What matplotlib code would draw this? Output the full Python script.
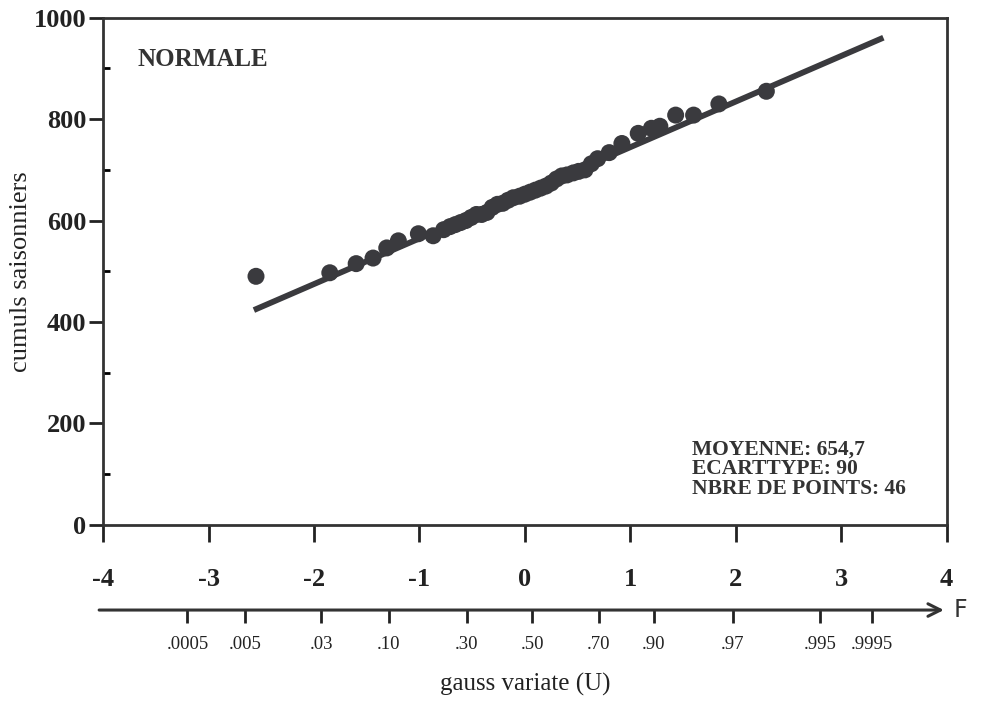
import numpy as np
import matplotlib
matplotlib.use("Agg")
import matplotlib.pyplot as plt

# points (gauss variate U, cumul)
u_pts = [-2.55, -1.85, -1.60, -1.44, -1.31, -1.20, -1.01, -0.87,
         -0.77, -0.71, -0.66, -0.61, -0.56, -0.51, -0.46, -0.41, -0.36, -0.31,
         -0.26, -0.21, -0.16, -0.11, -0.05, 0.00, 0.05, 0.10, 0.15, 0.20,
         0.25, 0.30, 0.35, 0.40, 0.46, 0.51, 0.57, 0.63, 0.69,
         0.80, 0.92, 1.075, 1.20, 1.28, 1.43, 1.60, 1.84, 2.29]
v_pts = [490, 497, 515, 526, 546, 560, 574, 570,
         582, 588, 592, 596, 600, 606, 612, 612, 616, 626,
         632, 634, 640, 645, 648, 652, 656, 660, 664, 668,
         674, 682, 688, 690, 694, 697, 700, 712, 722,
         734, 752, 772, 782, 786, 808, 808, 830, 855]

moyenne = 654.7
ecarttype = 90
n_points = 46
line_u = [-2.57, 3.40]

u_ticks = [-4, -3, -2, -1, 0, 1, 2, 3, 4]
y_ticks = [0, 200, 400, 600, 800, 1000]
f_pos = [-3.20, -2.65, -1.93, -1.29, -0.55, 0.07, 0.70, 1.22, 1.97, 2.80, 3.29]
f_labels = ['.0005', '.005', '.03', '.10', '.30', '.50', '.70', '.90', '.97', '.995', '.9995']

serif = ['Liberation Serif', 'DejaVu Serif']
dark = '#3a3a3e'

fig = plt.figure(figsize=(9.82, 7.11), dpi=100)
ax = fig.add_axes([0.105, 0.262, 0.859, 0.713])

line_v = [moyenne + ecarttype * x for x in line_u]
ax.plot(line_u, line_v, color=dark, lw=4.2, solid_capstyle='butt', zorder=2)
ax.scatter(u_pts, v_pts, s=150, color=dark, edgecolors='none', zorder=3)

ax.set_xlim(-4, 4)
ax.set_ylim(0, 1000)
ax.set_xticks(u_ticks)
ax.set_xticklabels([str(t) for t in u_ticks], family=serif, fontweight='bold', fontsize=19)
ax.set_yticks(y_ticks)
ax.set_yticklabels([str(t) for t in y_ticks], family=serif, fontweight='bold', fontsize=19)
ax.set_yticks([100, 300, 500, 700, 900], minor=True)
ax.tick_params(axis='x', direction='out', length=12, width=2, pad=19, colors='#222222')
ax.tick_params(axis='y', which='major', direction='out', length=10, width=2, pad=2, colors='#222222')
ax.tick_params(axis='y', which='minor', direction='in', length=5, width=2)
for s in ax.spines.values():
    s.set_linewidth(2)
    s.set_color('#333333')

ax.set_ylabel('cumuls saisonniers', family=serif, fontsize=19, labelpad=1, color='#222222')

ax.text(0.041, 0.905, 'NORMALE', transform=ax.transAxes, family=serif,
        fontweight='bold', fontsize=18, color='#333333')
ax.text(0.698, 0.05, f'MOYENNE: {str(moyenne).replace(".", ",")}\nECARTTYPE: {ecarttype}\nNBRE DE POINTS: {n_points}',
        transform=ax.transAxes, family=serif, fontweight='bold', fontsize=15.5,
        color='#333333', linespacing=1.0, va='bottom')

# probability axis with arrow
ax2 = fig.add_axes([0.105, 0.142, 0.859, 0.0001])
ax2.set_xlim(-4, 4)
ax2.set_ylim(0, 1)
for s in ax2.spines.values():
    s.set_visible(False)
ax2.set_yticks([])
ax2.set_xticks(f_pos)
ax2.set_xticklabels(f_labels, family=serif, fontsize=13.5)
ax2.tick_params(axis='x', direction='out', length=9, width=2, pad=10, colors='#222222')
ax2.annotate('', xy=(1.0, 0), xytext=(-0.008, 0), xycoords='axes fraction',
             arrowprops=dict(arrowstyle='->,head_length=0.9,head_width=0.45', lw=2.2, color='#333333'))
ax2.text(1.008, 0, 'F', transform=ax2.transAxes, fontsize=17, va='center', ha='left',
         family=['DejaVu Sans'], color='#333333')
ax2.set_xlabel('gauss variate (U)', family=serif, fontsize=18, labelpad=14, color='#222222')

fig.savefig('out.png', dpi=100)
